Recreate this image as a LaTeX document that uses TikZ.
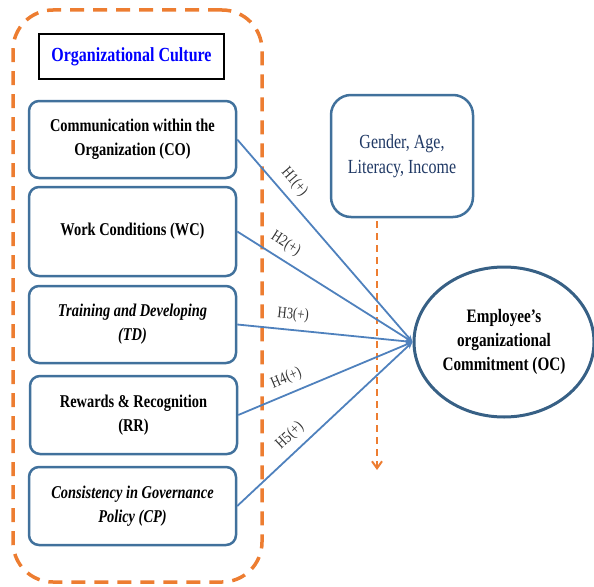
\documentclass[tikz,border=0pt]{standalone}
\usepackage{fontspec}
\setmainfont{Liberation Serif}[FakeStretch=0.8]
\usetikzlibrary{shapes.geometric,arrows.meta}
\definecolor{orng}{HTML}{ED7D31}
\definecolor{boxblue}{HTML}{41719C}
\definecolor{linblue}{HTML}{4F81BD}
\definecolor{navy}{HTML}{1F3864}
\definecolor{lblgray}{HTML}{333333}
\tikzset{
  frame/.style={draw=orng, line width=3.5pt, dash pattern=on 14pt off 9pt, rounded corners=40pt, inner sep=0pt},
  titlebox/.style={draw=black, line width=1.2pt, minimum width=185pt, minimum height=45pt, inner sep=0pt,
    font=\fontsize{20}{24}\selectfont\bfseries, text=blue},
  cbox/.style={draw=boxblue, line width=2.5pt, rounded corners=10pt, minimum width=207pt, inner sep=0pt,
    align=center, font=\fontsize{18}{24}\selectfont\bfseries},
  gbox/.style={draw=boxblue, line width=2.5pt, rounded corners=20pt, minimum width=142pt, minimum height=122pt,
    inner sep=0pt, align=center, font=\fontsize{20}{25}\selectfont, text=navy},
  oval/.style={ellipse, draw=boxblue!85!black, line width=3pt, minimum width=180pt, minimum height=150pt,
    inner sep=0pt, align=center, font=\fontsize{19}{24}\selectfont\bfseries},
  hyp/.style={draw=linblue, line width=1.8pt, -{Stealth[length=7pt,width=6pt]}},
  hlbl/.style={font=\fontsize{16}{18}\selectfont, text=lblgray, sloped, above=6pt, inner sep=1pt},
  modarrow/.style={draw=orng, line width=2pt, dash pattern=on 7pt off 5pt, -{Straight Barb[length=7pt,width=10pt]}}
}
\begin{document}
\begin{tikzpicture}[x=1pt,y=-1pt]
\useasboundingbox (0,0) rectangle (594,586);
\node[frame, minimum width=249pt, minimum height=572pt] (frm) at (137.5,296) {};
\node[titlebox] (title) at (131.5,56.5) {Organizational Culture};
\node[cbox, minimum height=77pt] (co) at (132.5,139.5) {Communication within the\\Organization (CO)};
\node[cbox, minimum height=89pt] (wc) at (132.5,231.5) {Work Conditions (WC)};
\node[cbox, minimum height=77pt] (td) at (132.5,324.5) {\itshape Training and Developing\\\itshape (TD)};
\node[cbox, minimum height=78pt] (rr) at (133.5,415) {Rewards \& Recognition\\(RR)};
\node[cbox, minimum height=78pt] (cp) at (132.5,506) {\itshape Consistency in Governance\\\itshape Policy (CP)};
\node[gbox] (gen) at (402,156) {Gender, Age,\\Literacy, Income};
\node[oval] (oc) at (504,342) {Employee’s\\organizational\\Commitment (OC)};
\coordinate (ms) at (377,221);
\coordinate (me) at (377,470);
\draw[modarrow] (ms) -- (me);
\draw[hyp] (co.east) -- node[hlbl, pos=0.26] {H1(+)} (oc.west);
\draw[hyp] (wc.east) -- node[hlbl, pos=0.23] {H2(+)} (oc.west);
\draw[hyp] (td.east) -- node[hlbl, pos=0.31] {H3(+)} (oc.west);
\draw[hyp] (rr.east) -- node[hlbl, pos=0.31] {H4(+)} (oc.west);
\draw[hyp] (cp.east) -- node[hlbl, pos=0.36] {H5(+)} (oc.west);
\end{tikzpicture}
\end{document}
